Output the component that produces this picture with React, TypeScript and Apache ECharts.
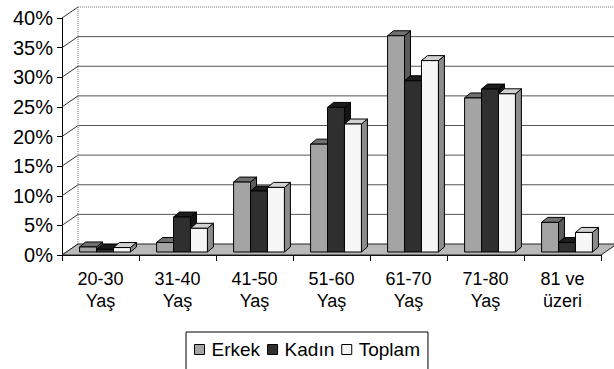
import React, { useEffect, useRef } from "react";
import * as echarts from "echarts";

const categories = ["20-30\nYaş", "31-40\nYaş", "41-50\nYaş", "51-60\nYaş", "61-70\nYaş", "71-80\nYaş", "81 ve\nüzeri"];
const erkek = [0.85, 1.6, 11.8, 18.2, 36.5, 26.0, 5.0];
const kadin = [0.45, 5.9, 10.3, 24.4, 28.9, 27.5, 1.6];
const toplam = [0.75, 4.0, 10.9, 21.6, 32.3, 26.7, 3.3];
const yTicks = [0, 5, 10, 15, 20, 25, 30, 35, 40];
const seriesNames = ["Erkek", "Kadın", "Toplam"];

const FONT = "Liberation Sans";
const DX = 16;
const DY = -11;
const SHIFT_X = 4.5;
const SHIFT_Y = -3;
const BDX = 6;
const BDY = -5;

const faces = [
  { front: "#a4a4a4", top: "#707070", side: "#5c5c5c" },
  { front: "#2f2f2f", top: "#1c1c1c", side: "#141414" },
  { front: "#f6f6f6", top: "#d2d2d2", side: "#8c8c8c" },
];

function barRender(idx: number) {
  const f = faces[idx];
  return (params: any, api: any) => {
    const cat = api.value(0);
    const val = api.value(1);
    const band = api.size([1, 0])[0];
    const bw = band * 0.22;
    const c = api.coord([cat, val]);
    const b = api.coord([cat, 0]);
    const xl = c[0] - 1.5 * bw + idx * bw + SHIFT_X;
    const xr = xl + bw;
    const yt = c[1] + SHIFT_Y;
    const yb = b[1] + SHIFT_Y;
    const stroke = "#000";
    return {
      type: "group",
      children: [
        {
          type: "polygon",
          shape: { points: [[xr, yt], [xr + BDX, yt + BDY], [xr + BDX, yb + BDY], [xr, yb]] },
          style: { fill: f.side, stroke, lineWidth: 1 },
        },
        {
          type: "polygon",
          shape: { points: [[xl, yt], [xl + BDX, yt + BDY], [xr + BDX, yt + BDY], [xr, yt]] },
          style: { fill: f.top, stroke, lineWidth: 1 },
        },
        {
          type: "rect",
          shape: { x: xl, y: yt, width: bw, height: yb - yt },
          style: { fill: f.front, stroke, lineWidth: 1 },
        },
      ],
    };
  };
}

function wallRender(params: any, api: any) {
  const v = api.value(1);
  const band = api.size([1, 0])[0];
  const p = api.coord([0, v]);
  const x0 = p[0] - band / 2;
  const y = p[1];
  const xEnd = api.coord([categories.length - 1, v])[0] + band / 2;
  const children: any[] = [
    {
      type: "line",
      shape: { x1: x0, y1: y, x2: x0 + DX, y2: y + DY },
      style: { stroke: "#333", lineWidth: 1 },
    },
  ];
  if (v > 0) {
    children.push({
      type: "line",
      shape: { x1: x0 + DX, y1: y + DY, x2: xEnd + DX, y2: y + DY },
      style:
        v === 40
          ? { stroke: "#777", lineWidth: 1, lineDash: [1, 1] }
          : { stroke: "#555", lineWidth: 1 },
    });
  }
  return { type: "group", children };
}

function floorRender(params: any, api: any) {
  const band = api.size([1, 0])[0];
  const p0 = api.coord([0, 0]);
  const pTop = api.coord([0, 40]);
  const x0 = p0[0] - band / 2;
  const y0 = p0[1];
  const xEnd = api.coord([categories.length - 1, 0])[0] + band / 2;
  return {
    type: "group",
    children: [
      {
        type: "line",
        shape: { x1: x0 + DX, y1: y0 + DY, x2: x0 + DX, y2: pTop[1] + DY },
        style: { stroke: "#777", lineWidth: 1, lineDash: [1, 1] },
      },
      {
        type: "polygon",
        shape: { points: [[x0, y0], [xEnd, y0], [xEnd + DX, y0 + DY], [x0 + DX, y0 + DY]] },
        style: { fill: "#b9b9b9", stroke: "#222", lineWidth: 1 },
      },
    ],
  };
}

export default function App() {
  const ref = useRef<HTMLDivElement>(null);
  useEffect(() => {
    document.body.style.margin = "0";
    const chart = echarts.init(ref.current!, null, { renderer: "svg" });
    const barData = [erkek, kadin, toplam];
    chart.setOption({
      animation: false,
      backgroundColor: "#fff",
      textStyle: { fontFamily: FONT },
      grid: { left: 62, right: 13, top: 18, bottom: 114, outerBoundsMode: "none" },
      legend: {
        data: seriesNames,
        left: "center",
        top: 332,
        icon: "rect",
        itemWidth: 10,
        itemHeight: 10,
        itemGap: 7,
        padding: [8, 8, 16, 8],
        borderColor: "#000",
        borderWidth: 1,
        itemStyle: { borderColor: "#000", borderWidth: 1 },
        textStyle: { fontFamily: FONT, fontSize: 19, color: "#000", padding: [0, 0, 0, 2] },
      },
      xAxis: {
        type: "category",
        data: categories,
        axisLine: { lineStyle: { color: "#000", width: 1 } },
        axisTick: { show: true, length: 6, lineStyle: { color: "#000" } },
        axisLabel: { fontFamily: FONT, fontSize: 18, color: "#000", lineHeight: 22, margin: 13, interval: 0 },
        splitLine: { show: false },
      },
      yAxis: {
        type: "value",
        min: 0,
        max: 40,
        interval: 5,
        axisLine: { show: true, lineStyle: { color: "#000", width: 1 } },
        axisTick: { show: true, length: 5, lineStyle: { color: "#000" } },
        axisLabel: { fontFamily: FONT, fontSize: 20, color: "#000", margin: 9, formatter: "{value}%" },
        splitLine: { show: false },
      },
      series: [
        {
          name: "walls",
          type: "custom",
          z: 1,
          silent: true,
          renderItem: wallRender,
          data: yTicks.map((v) => [0, v]),
        },
        {
          name: "floor",
          type: "custom",
          z: 1,
          silent: true,
          renderItem: floorRender,
          data: [[0, 0]],
        },
        ...seriesNames.map((name, i) => ({
          name,
          type: "custom",
          z: 3,
          renderItem: barRender(i),
          itemStyle: { color: faces[i].front, borderColor: "#000", borderWidth: 1 },
          data: barData[i].map((v, k) => [k, v]),
        })),
      ],
    });
    return () => chart.dispose();
  }, []);
  return <div ref={ref} style={{ width: 614, height: 369 }} />;
}
